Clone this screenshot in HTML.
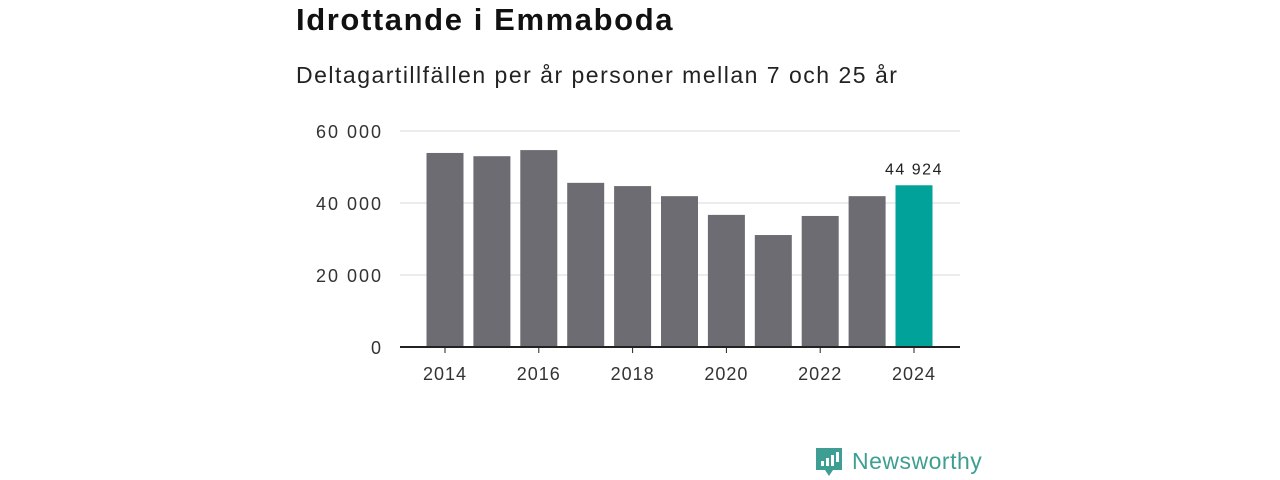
<!DOCTYPE html>
<html><head><meta charset="utf-8"><style>
body{margin:0;width:1280px;height:480px;background:#fff;font-family:"Liberation Sans","DejaVu Sans",sans-serif;overflow:hidden;position:relative}
#title{position:absolute;left:296px;top:2px;font-size:31px;font-weight:bold;color:#111;margin:0;letter-spacing:1.6px}
#sub{position:absolute;left:296px;top:62px;font-size:23px;color:#222;letter-spacing:1.5px}
svg{position:absolute;left:0;top:0}
</style></head><body>
<h1 id="title">Idrottande i Emmaboda</h1>
<div id="sub">Deltagartillfällen per år personer mellan 7 och 25 år</div>
<svg id="chart" width="1280" height="480">
<g id="logo">
<path d="M816 448 h26 v22 h-9 l-4 6 l-4 -6 h-9 z" fill="#3f9e93"/>
<rect x="821" y="461" width="3" height="5" fill="#fff"/><rect x="826" y="458" width="3" height="8" fill="#fff"/><rect x="831" y="455" width="3" height="11" fill="#fff"/><rect x="836" y="452" width="3" height="10" fill="#fff"/>
<text x="852" y="469" font-size="23" fill="#3f9e93" letter-spacing="0.5" font-family="Liberation Sans, sans-serif">Newsworthy</text>
</g>
</svg>
<script>
const years=[2014,2015,2016,2017,2018,2019,2020,2021,2022,2023,2024];
const values=[53900,53000,54700,45600,44700,41900,36700,31100,36400,41900,44924];
const yTicks=[0,20000,40000,60000];
const yTickLabels=["0","20 000","40 000","60 000"];
const xTickYears=[2014,2016,2018,2020,2022,2024];
const highlightLabel="44 924";
const svg=document.getElementById('chart');const NS='http://www.w3.org/2000/svg';
const y0=347,yTop=131,yMax=60000;
const y=v=>y0-(v/yMax)*(y0-yTop);
const step=46.9,bw=37,x=yr=>445+(yr-2014)*step;
function mk(t,a){const e=document.createElementNS(NS,t);for(const k in a)e.setAttribute(k,a[k]);svg.appendChild(e);return e;}
yTicks.forEach((t,i)=>{
 if(t>0){const g=mk('line',{x1:400,x2:960,y1:y(t),y2:y(t),stroke:'#d8d8d8','stroke-width':1});
 
 }
 const l=mk('text',{x:383,y:y(t)+7,'text-anchor':'end','font-size':18,fill:'#333','letter-spacing':2});l.textContent=yTickLabels[i];
 
 
});
years.forEach((yr,i)=>{
 const last=i===years.length-1;
 const r=mk('rect',{x:x(yr)-bw/2,y:y(values[i]),width:bw,height:y0-y(values[i]),fill:last?'#00a29a':'#6d6c72'});
 
 
});
const ax=mk('line',{x1:400,x2:960,y1:y0,y2:y0,stroke:'#222','stroke-width':2});


xTickYears.forEach(yr=>{
 const tk=mk('line',{x1:x(yr),x2:x(yr),y1:y0,y2:y0+6,stroke:'#222','stroke-width':1});
 
 
 const l=mk('text',{x:x(yr),y:380,'text-anchor':'middle','font-size':18,fill:'#333','letter-spacing':1});l.textContent=yr;
 
 
});
const lv=mk('text',{x:x(2024),y:y(values[values.length-1])-11,'text-anchor':'middle','font-size':16,fill:'#222','letter-spacing':1.5});lv.textContent=highlightLabel;


</script>
</body></html>
